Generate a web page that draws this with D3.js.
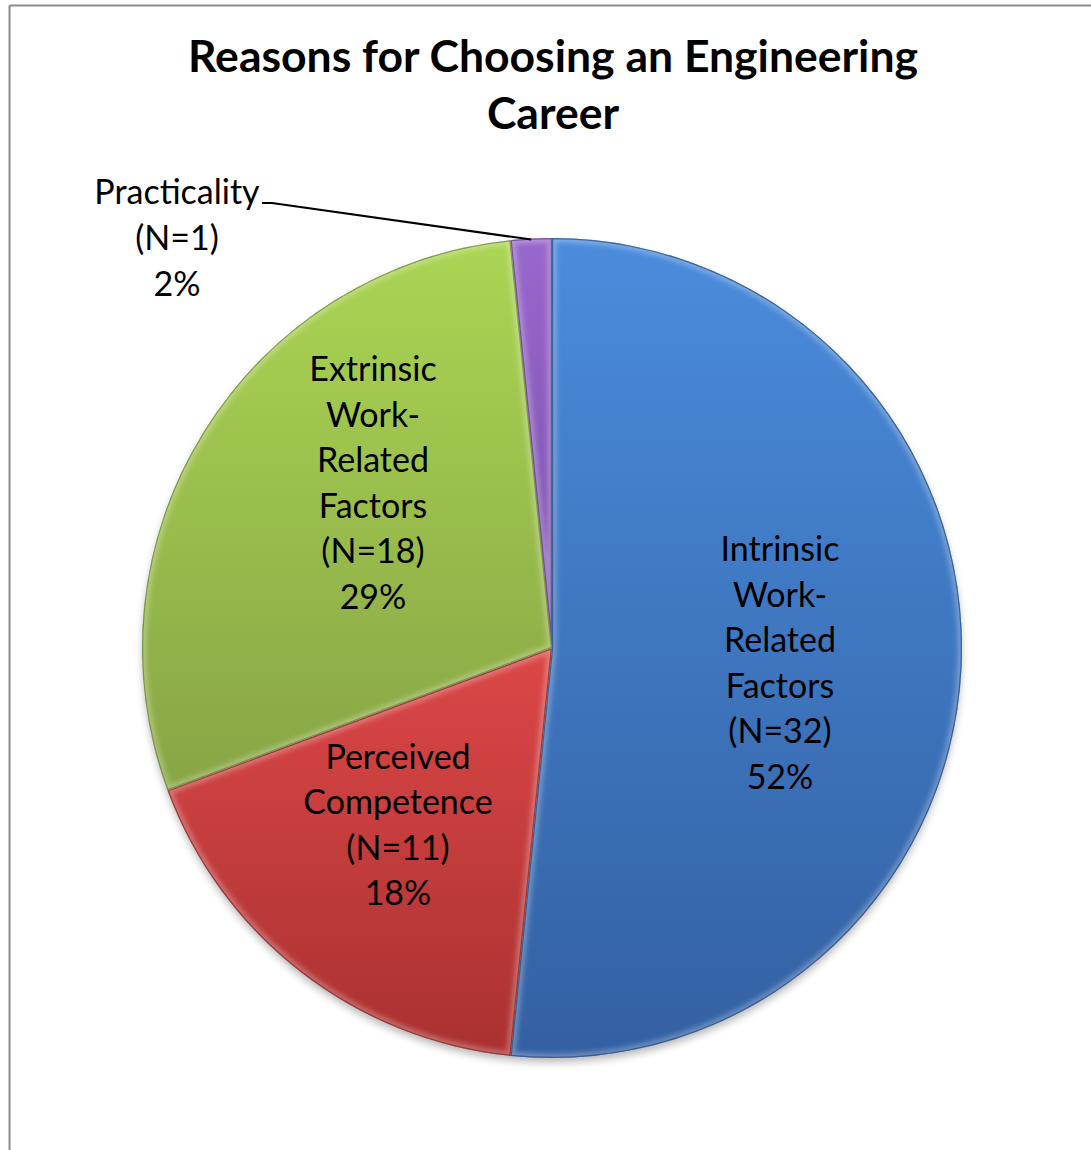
<!DOCTYPE html>
<html>
<head>
<meta charset="utf-8">
<script src="https://cdn.jsdelivr.net/npm/d3@7"></script>
<style>
  html, body { margin: 0; padding: 0; background: #fff; }
  svg { display: block; }
  text { font-family: Lato, "Open Sans", sans-serif; fill: #000; }
</style>
</head>
<body>
<script>
// Survey responses: reasons for choosing an engineering career
const categories = [
  ["Intrinsic", "Work-", "Related", "Factors"],
  ["Perceived", "Competence"],
  ["Extrinsic", "Work-", "Related", "Factors"],
  ["Practicality"]
];
const counts = [32, 11, 18, 1];
const titleLines = ["Reasons for Choosing an Engineering", "Career"];

// Fill colours: [light top, darker bottom] of each slice
const sliceColors = [
  ["#4a8cdc", "#3360a2"],
  ["#dc4747", "#aa3131"],
  ["#abd553", "#88a545"],
  ["#9868cc", "#7b50aa"]
];

const W = 1091, H = 1150;
const cx = 552, cy = 648, R = 410;

const svg = d3.select("body").append("svg")
  .attr("width", W).attr("height", H);

// Chart frame (top and left edges visible)
svg.append("line").attr("x1", 9.5).attr("y1", 5.5).attr("x2", W).attr("y2", 5.5)
  .attr("stroke", "#8c8c8c").attr("stroke-width", 2);
svg.append("line").attr("x1", 9.5).attr("y1", 5.5).attr("x2", 9.5).attr("y2", H)
  .attr("stroke", "#8c8c8c").attr("stroke-width", 2);

// Title
svg.append("text")
  .attr("text-anchor", "middle")
  .style("font-weight", "bold").style("font-size", "44.5px")
  .selectAll("tspan").data(titleLines).join("tspan")
  .attr("x", 553).attr("y", (d, i) => 72 + i * 57)
  .text(d => d);

const defs = svg.append("defs");
sliceColors.forEach((c, i) => {
  const g = defs.append("linearGradient")
    .attr("id", "grad" + i)
    .attr("x1", 0).attr("y1", 0).attr("x2", 0).attr("y2", 1);
  g.append("stop").attr("offset", 0).attr("stop-color", c[0]);
  g.append("stop").attr("offset", 1).attr("stop-color", c[1]);
});
const shadow = defs.append("filter").attr("id", "shadow")
  .attr("x", "-10%").attr("y", "-10%").attr("width", "120%").attr("height", "120%");
shadow.append("feGaussianBlur").attr("in", "SourceAlpha").attr("stdDeviation", 4);
shadow.append("feOffset").attr("dx", 0).attr("dy", 5).attr("result", "blur");
shadow.append("feComponentTransfer").append("feFuncA").attr("type", "linear").attr("slope", 0.3);
const merge = shadow.append("feMerge");
merge.append("feMergeNode");
merge.append("feMergeNode").attr("in", "SourceGraphic");
defs.append("filter").attr("id", "soft")
  .append("feGaussianBlur").attr("stdDeviation", 2.5);

const pie = d3.pie().sort(null).value(d => d)
  .startAngle(0).endAngle(2 * Math.PI);
const arcs = pie(counts);
const arc = d3.arc().innerRadius(0).outerRadius(R);

const gPie = svg.append("g").attr("transform", `translate(${cx},${cy})`);
gPie.append("circle").attr("r", R - 1).attr("fill", "#888").attr("filter", "url(#shadow)");

arcs.forEach((a, i) => {
  defs.append("clipPath").attr("id", "clip" + i)
    .append("path").attr("d", arc(a)).attr("transform", `translate(${cx},${cy})`);
});

const slices = gPie.selectAll("g.slice").data(arcs).join("g").attr("class", "slice");

slices.append("path")
  .attr("d", arc)
  .attr("fill", (d, i) => `url(#grad${i})`);

// Bevel: light inner edge and darker rim, kept inside each slice
slices.each(function (d, i) {
  const g = d3.select(this).append("g")
    .attr("clip-path", `url(#clip${i})`)
    .attr("transform", `translate(${-cx},${-cy})`);
  g.append("path")
    .attr("d", arc(d)).attr("transform", `translate(${cx},${cy})`)
    .attr("fill", "none").attr("stroke", "#fff").attr("stroke-opacity", 0.28)
    .attr("stroke-width", 9).attr("filter", "url(#soft)");
  g.append("path")
    .attr("d", arc(d)).attr("transform", `translate(${cx},${cy})`)
    .attr("fill", "none").attr("stroke", d3.color(sliceColors[i][1]).darker(0.8))
    .attr("stroke-opacity", 0.7).attr("stroke-width", 2.5);
});

const total = d3.sum(counts);
const pct = v => Math.round(v / total * 100) + "%";

// Label block centres relative to the pie centre
const labelCenters = [[228, 13], [-154, 175], [-179, -167], [-375, -412]];
const lineGap = 45.6;

arcs.forEach((a, i) => {
  const lines = categories[i].concat([`(N=${counts[i]})`, pct(counts[i])]);
  const [lx, ly] = labelCenters[i];
  const x = cx + lx;
  const y0 = cy + ly - (lines.length - 1) * lineGap / 2;
  svg.append("text")
    .attr("text-anchor", "middle")
    .attr("dominant-baseline", "central")
    .style("font-size", "34px")
    .selectAll("tspan").data(lines).join("tspan")
    .attr("x", x)
    .attr("y", (d, j) => y0 + j * lineGap)
    .text(d => d);
});

// Leader line for the small slice, ending at its outer edge midpoint
const small = arcs[3];
const mid = (small.startAngle + small.endAngle) / 2;
const tip = [cx + Math.sin(mid) * R, cy - Math.cos(mid) * R + 1];
svg.append("path")
  .attr("d", d3.line()([[262, 203], [272, 203], tip]))
  .attr("fill", "none").attr("stroke", "#000").attr("stroke-width", 2.2);
</script>
</body>
</html>
